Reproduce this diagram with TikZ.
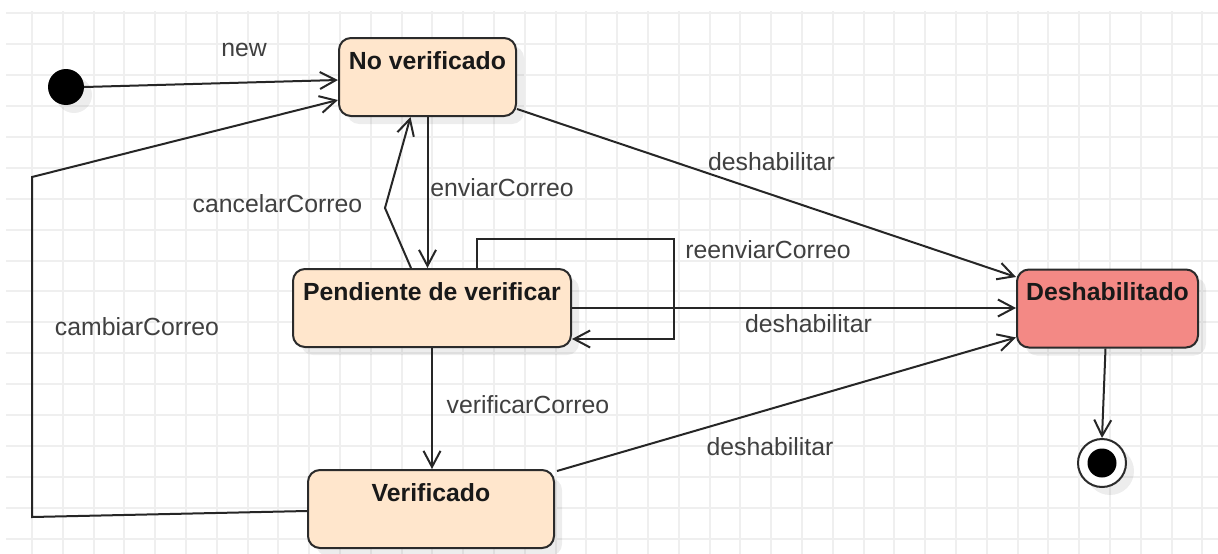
\documentclass[tikz,border=0pt]{standalone}
\usepackage{fontspec}
\setmainfont{Liberation Sans}
\usetikzlibrary{arrows.meta,calc,shadows}
\definecolor{gridc}{HTML}{EFEFEF}
\definecolor{peach}{HTML}{FFE6CC}
\definecolor{coral}{HTML}{F38985}
\definecolor{edgec}{HTML}{262626}
\definecolor{labc}{HTML}{404040}
\definecolor{borderc}{HTML}{2B2B2B}
\begin{document}
\begin{tikzpicture}[x=1pt,y=-1pt,
  gridline/.style={draw=gridc, line width=2pt},
  softshadow/.style={drop shadow={shadow xshift=8pt,shadow yshift=-8pt,fill=black,opacity=0.07}},
  statebox/.style={draw=borderc, line width=2pt, fill=peach, rounded corners=12pt,
    minimum width=#1, minimum height=78pt, inner sep=0pt, softshadow},
  stitle/.style={font=\fontsize{24.8}{28}\selectfont\bfseries, text=black!90, inner sep=0pt},
  elabel/.style={font=\fontsize{24.8}{28}\selectfont, text=labc, inner sep=0pt},
  conn/.style={draw=edgec, line width=2pt, line join=miter,
    -{Straight Barb[length=16pt,width=17pt]}}
]
\useasboundingbox (0,0) rectangle (1218,554);
\fill[white] (0,0) rectangle (1218,554);

% background grid
\foreach \i in {0,...,38} \draw[gridline] ({32+30.8*\i},11) -- ({32+30.8*\i},554);
\foreach \j in {0,...,17} \draw[gridline] (6,{13+30.94*\j}) -- (1218,{13+30.94*\j});

% initial and final pseudo-states
\node[circle, fill=black, minimum size=36pt, inner sep=0pt, softshadow] (ini) at (66,87) {};
\node[circle, draw=borderc, line width=2pt, fill=white, minimum size=48pt, inner sep=0pt, softshadow] (fin) at (1102,463) {};
\node[circle, fill=black, minimum size=29pt, inner sep=0pt] (fincore) at (fin) {};

% states
\node[statebox=177pt] (nv) at (427.5,77) {};
\node[stitle] (nvt) at ([yshift=-23.5pt]nv.north) {No verificado};

\node[statebox=278pt] (pv) at (432,308) {};
\node[stitle] (pvt) at ([yshift=-23.5pt]pv.north) {Pendiente de verificar};

\node[statebox=246pt] (ve) at (431,509) {};
\node[stitle] (vet) at ([yshift=-23.5pt]ve.north) {Verificado};

\node[statebox=181pt, fill=coral] (de) at (1107.5,308.5) {};
\node[stitle] (det) at ([yshift=-23pt]de.north) {Deshabilitado};

% routing points
\coordinate (cb1) at (32,517);
\coordinate (cb2) at (32,177);
\coordinate (cc1) at (385,208);
\coordinate (lp1) at (674,239);

% transitions
\draw[conn] (ini.east) -- ($(nv.west)+(0,3)$);
\draw[conn] ($(ve.west)+(0,2)$) -- (cb1) -- (cb2) -- ($(nv.west)+(0,23)$);
\draw[conn] ($(nv.south east)+(0,-8)$) -- ($(de.west)+(0,-31.5)$);
\draw[conn] (nv.south) -- (nv.south |- pv.north);
\draw[conn] ($(pv.north)+(-21,0)$) -- (cc1) -- ($(nv.south)+(-17,0)$);
\draw[conn] ($(pv.north)+(45,0)$) |- (lp1) |- ($(pv.east)+(0,31)$);
\draw[conn] (pv.east) -- (pv.east -| de.west);
\draw[conn] (pv.south) -- (pv.south |- ve.north);
\draw[conn] ($(ve.north east)+(2,2)$) -- ($(de.south west)+(0,-11)$);
\draw[conn] ($(de.south)+(-2,0)$) -- (fin.north);

% transition labels
\node[elabel] (lnew) at (244,49.5) {new};
\node[elabel] (lcc) at (277.5,204) {cancelarCorreo};
\node[elabel] (lec) at (502,188) {enviarCorreo};
\node[elabel] (ld1) at (771.5,162) {deshabilitar};
\node[elabel] (lrc) at (768,250) {reenviarCorreo};
\node[elabel] (ld2) at (808.5,324) {deshabilitar};
\node[elabel] (lvc) at (528,405) {verificarCorreo};
\node[elabel] (ld3) at (770,447) {deshabilitar};
\node[elabel] (lcb) at (137,327) {cambiarCorreo};
\end{tikzpicture}
\end{document}
